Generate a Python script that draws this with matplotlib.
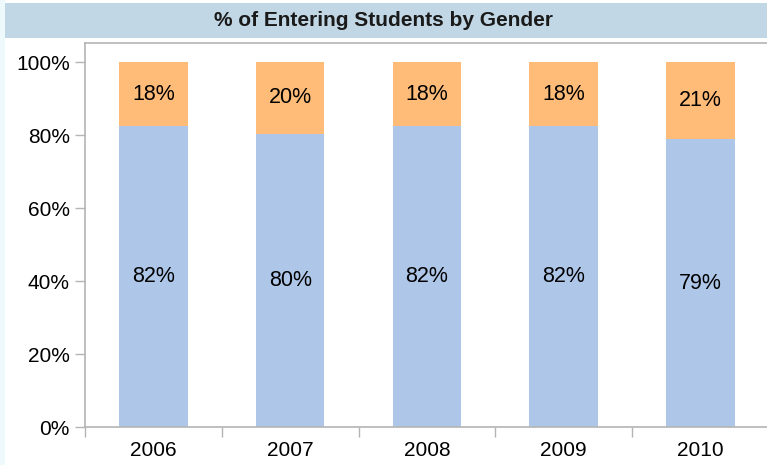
import matplotlib
matplotlib.use("Agg")
import matplotlib.pyplot as plt
from matplotlib.patches import Rectangle
from matplotlib.ticker import FixedLocator

years = ["2006", "2007", "2008", "2009", "2010"]
male = [82.4, 80.4, 82.4, 82.4, 78.9]
female = [100 - v for v in male]
yticks = [0, 20, 40, 60, 80, 100]
title = "% of Entering Students by Gender"

W, H = 767, 465
fig = plt.figure(figsize=(W / 100, H / 100), dpi=100)
fig.patch.set_facecolor("white")
plt.rcParams["font.family"] = ["Liberation Sans", "DejaVu Sans"]

# left strip and title bar
fig.patches.append(Rectangle((0, 0), 5 / W, 1, transform=fig.transFigure,
                             facecolor="#EEF9FB", edgecolor="none", zorder=0))
fig.patches.append(Rectangle((5 / W, 1 - 38 / H), 1 - 5 / W, 35 / H,
                             transform=fig.transFigure,
                             facecolor="#C2D7E5", edgecolor="none", zorder=0))
fig.text(383 / W, 1 - 20 / H, title, ha="center", va="center",
         fontsize=15, fontweight="bold", color="#1a1a1a")

left, right, top, bottom = 85, 767, 43, 427
ax = fig.add_axes([left / W, (H - bottom) / H, (right - left) / W, (bottom - top) / H])
cat_w = 136.75
ax.set_xlim(-0.5, -0.5 + (right - left) / cat_w)
ymax = 100 * (bottom - top) / (bottom - 62)
ax.set_ylim(0, ymax)

x = list(range(len(years)))
ax.bar(x, male, width=0.5, color="#AEC6E8", zorder=2)
ax.bar(x, female, width=0.5, bottom=male, color="#FFBB78", zorder=2)
for i in x:
    ax.text(i, male[i] / 2, f"{round(male[i])}%", ha="center", va="center", fontsize=15.5)
    ax.text(i, male[i] + female[i] / 2, f"{round(female[i])}%", ha="center", va="center", fontsize=15.5)

gray = "#B4B4B4"
ax.spines["right"].set_visible(False)
for s in ["left", "bottom", "top"]:
    ax.spines[s].set_color(gray)
    ax.spines[s].set_linewidth(1.2)

ax.set_yticks(yticks)
ax.set_yticklabels([f"{v}%" for v in yticks], fontsize=15)
ax.tick_params(axis="y", length=7, width=1, color=gray, pad=4)

ax.set_xticks(x)
ax.set_xticklabels(years, fontsize=15)
ax.tick_params(axis="x", which="major", length=0, pad=10)
ax.xaxis.set_minor_locator(FixedLocator([i - 0.5 for i in range(len(years))]))
ax.tick_params(axis="x", which="minor", length=7, width=1, color=gray)

fig.savefig("out.png", dpi=100)
